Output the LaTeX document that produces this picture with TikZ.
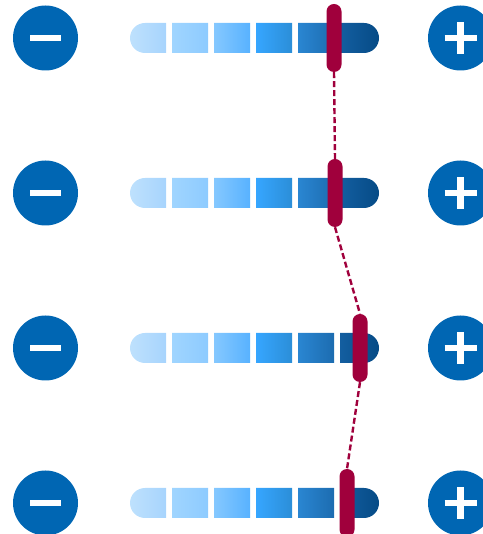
\documentclass[tikz,border=0pt]{standalone}
\usetikzlibrary{calc}

\definecolor{signblue}{RGB}{0,102,179}
\definecolor{knobred}{RGB}{160,0,60}
\definecolor{segAl}{RGB}{190,225,253}
\definecolor{segAr}{RGB}{167,212,253}
\definecolor{segBl}{RGB}{160,213,255}
\definecolor{segBr}{RGB}{142,203,255}
\definecolor{segCl}{RGB}{133,200,255}
\definecolor{segCr}{RGB}{88,178,255}
\definecolor{segDl}{RGB}{54,166,255}
\definecolor{segDr}{RGB}{43,142,216}
\definecolor{segEl}{RGB}{42,134,210}
\definecolor{segEr}{RGB}{28,108,176}
\definecolor{segFl}{RGB}{19,94,160}
\definecolor{segFr}{RGB}{6,75,134}

\begin{document}
\begin{tikzpicture}[x=1pt, y=1pt,
    signdisc/.style={circle, fill=signblue, minimum size=65pt, inner sep=0pt},
    knob/.style={rectangle, rounded corners=7.5pt, fill=knobred,
        minimum width=15pt, minimum height=68pt, inner sep=0pt},
    glyph/.style={white, line width=6.5pt},
    trace/.style={knobred, line width=2.4pt, dash pattern=on 6pt off 3pt}]
    \useasboundingbox (0,0) rectangle (482,534);

    % --- One row per setting: minus, graded bar, knob, plus ---
    \foreach \r/\y/\s in {1/496/334, 2/341/335, 3/186/360, 4/31/347} {
        \node[signdisc] (minus\r) at (45.5,\y) {};
        \draw[glyph] ($(minus\r.center)+(-15.5,0)$) -- ($(minus\r.center)+(15.5,0)$);

        \node[signdisc] (plus\r) at (460.5,\y) {};
        \draw[glyph] ($(plus\r.center)+(-16,0)$) -- ($(plus\r.center)+(16,0)$);
        \draw[glyph] ($(plus\r.center)+(0,-16)$) -- ($(plus\r.center)+(0,16)$);

        % graded bar, six cells, rounded ends
        \begin{scope}
            \clip[rounded corners=15pt] (130,\y-15) rectangle (379,\y+15);
            \foreach \i/\cl/\cr in {0/segAl/segAr, 1/segBl/segBr, 2/segCl/segCr,
                                    3/segDl/segDr, 4/segEl/segEr} {
                \shade[left color=\cl, right color=\cr]
                    (130+42*\i,\y-15) rectangle (166+42*\i,\y+15);
            }
            \shade[left color=segFl, right color=segFr] (340,\y-15) rectangle (379,\y+15);
        \end{scope}

        \node[knob] (knob\r) at (\s,\y) {};
    }

    % --- Knob trace between rows ---
    \draw[trace] (knob1.south) -- (knob2.north);
    \draw[trace] (knob2.south) -- (knob3.north);
    \draw[trace] (knob3.south) -- (knob4.north);
\end{tikzpicture}
\end{document}
